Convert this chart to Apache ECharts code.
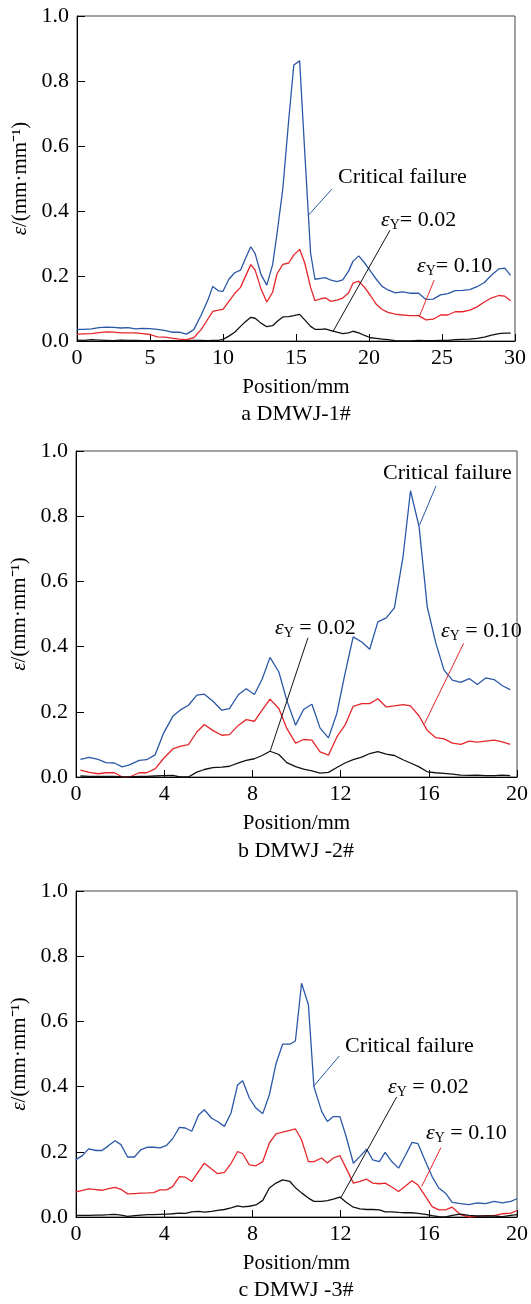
<!DOCTYPE html>
<html>
<head>
<meta charset="utf-8">
<script src="https://cdn.jsdelivr.net/npm/echarts@6/dist/echarts.min.js"></script>
<style>
html,body{margin:0;padding:0;background:#fff;}
#c{width:531px;height:1304px;}
</style>
</head>
<body>
<div id="c"></div>
<script>
// a DMWJ-1#
var posA = [0,0.5,1,1.5,2,2.5,3,3.5,4,4.5,5,5.5,6,6.5,7,7.5,8,8.5,9,
  9.3,9.7,10,10.4,10.8,11.2,11.5,11.9,12.2,12.6,13.0,13.4,13.7,14.1,14.5,14.85,15.25,15.6,16.0,16.3,
  16.7,17.0,17.4,17.8,18.2,18.6,18.9,19.3,19.7,20.1,20.5,20.9,21.3,21.8,22.3,22.8,23.4,23.9,24.4,24.9,
  25.4,25.9,26.4,26.9,27.4,27.9,28.4,28.9,29.3,29.7];
var critA = [0.036,0.036,0.037,0.041,0.043,0.042,0.040,0.041,0.037,0.039,0.038,0.036,0.033,0.027,0.027,0.021,0.035,0.079,0.13,
  0.168,0.154,0.153,0.19,0.21,0.218,0.25,0.29,0.269,0.205,0.172,0.235,0.33,0.47,0.68,0.849,0.862,0.58,0.27,0.19,
  0.193,0.195,0.187,0.183,0.188,0.215,0.245,0.262,0.24,0.215,0.19,0.168,0.157,0.148,0.151,0.147,0.147,0.128,0.129,0.142,
  0.146,0.155,0.156,0.158,0.167,0.18,0.203,0.222,0.224,0.202];
var y10A = [0.021,0.022,0.023,0.026,0.028,0.027,0.025,0.025,0.025,0.023,0.02,0.013,0.012,0.009,0.006,0.004,0.01,0.035,0.07,
  0.091,0.095,0.097,0.122,0.146,0.165,0.195,0.235,0.218,0.161,0.12,0.15,0.207,0.236,0.24,0.265,0.282,0.24,0.165,0.124,
  0.13,0.133,0.122,0.126,0.132,0.148,0.178,0.184,0.165,0.14,0.113,0.097,0.088,0.083,0.08,0.078,0.078,0.065,0.067,0.08,
  0.08,0.09,0.09,0.095,0.105,0.12,0.133,0.14,0.138,0.124];
var y02A = [0.003,0.002,0.004,0.003,0.002,0.001,0.003,0.002,0.002,0.001,0.001,0.001,0.001,0.001,0.001,0.001,0.002,0.002,0.001,
  0.002,0.002,0.005,0.015,0.027,0.045,0.058,0.073,0.07,0.055,0.044,0.047,0.06,0.074,0.075,0.078,0.082,0.065,0.045,0.036,
  0.036,0.037,0.032,0.027,0.023,0.025,0.03,0.025,0.017,0.01,0.008,0.006,0.004,0.001,0.0,0.0,0.002,0.001,0.001,0.002,
  0.002,0.004,0.005,0.006,0.008,0.012,0.018,0.023,0.024,0.024];

// b DMWJ -2#
var posB = [0.2,0.6,1.0,1.36,1.74,2.1,2.42,2.87,3.2,3.59,3.96,4.39,4.72,5.1,5.48,5.82,6.2,6.61,6.96,7.37,
  7.72,8.09,8.44,8.8,9.2,9.56,9.96,10.32,10.7,11.07,11.45,11.83,12.2,12.57,12.96,13.32,13.69,14.07,14.44,14.83,
  15.17,15.56,15.93,16.31,16.69,17.07,17.45,17.83,18.2,18.58,18.96,19.34,19.69];
var critB = [0.054,0.06,0.054,0.044,0.043,0.031,0.037,0.051,0.053,0.068,0.133,0.186,0.205,0.22,0.251,0.254,0.233,0.205,0.21,0.253,
  0.271,0.253,0.3,0.367,0.322,0.235,0.159,0.207,0.223,0.15,0.12,0.195,0.317,0.43,0.414,0.392,0.476,0.488,0.519,0.675,
  0.878,0.768,0.522,0.413,0.328,0.297,0.29,0.302,0.284,0.304,0.299,0.28,0.268];
var y10B = [0.021,0.014,0.01,0.013,0.013,0.0,0.0,0.013,0.013,0.025,0.056,0.086,0.094,0.099,0.138,0.161,0.143,0.128,0.13,0.159,
  0.176,0.171,0.205,0.239,0.21,0.149,0.104,0.115,0.113,0.077,0.067,0.123,0.159,0.217,0.225,0.225,0.24,0.215,0.218,0.222,
  0.218,0.187,0.143,0.121,0.117,0.104,0.1,0.11,0.107,0.11,0.113,0.108,0.1];
var y02B = [0.003,0.002,0.002,0.002,0.002,0.0,0.0,0.002,0.002,0.003,0.004,0.005,0.0,0.0,0.015,0.023,0.029,0.03,0.033,0.043,
  0.051,0.056,0.066,0.079,0.069,0.044,0.032,0.024,0.019,0.012,0.014,0.029,0.043,0.053,0.061,0.072,0.078,0.07,0.066,0.053,
  0.043,0.031,0.016,0.013,0.011,0.009,0.006,0.005,0.006,0.004,0.004,0.006,0.004];

// c DMWJ -3#
var posC = [0,0.3,0.57,0.91,1.18,1.48,1.77,2.04,2.34,2.65,2.95,3.25,3.52,3.81,4.11,4.38,4.69,4.96,5.25,5.56,
  5.82,6.15,6.42,6.73,7.03,7.33,7.56,7.86,8.16,8.47,8.77,9.07,9.37,9.7,9.95,10.23,10.54,10.79,11.14,11.4,
  11.67,11.97,12.25,12.58,12.88,13.18,13.46,13.76,14.02,14.32,14.63,14.93,15.24,15.51,15.85,16.15,16.45,16.76,17.06,17.44,
  17.82,18.2,18.58,18.96,19.34,19.72,20.0];
var critC = [0.176,0.189,0.209,0.204,0.204,0.219,0.234,0.222,0.184,0.184,0.207,0.214,0.214,0.212,0.22,0.24,0.275,0.273,0.263,0.313,
  0.329,0.303,0.293,0.278,0.319,0.405,0.418,0.365,0.334,0.317,0.375,0.47,0.53,0.53,0.54,0.717,0.651,0.4,0.324,0.293,
  0.308,0.308,0.247,0.165,0.186,0.208,0.175,0.17,0.198,0.17,0.15,0.188,0.229,0.225,0.17,0.124,0.089,0.073,0.045,0.041,
  0.038,0.043,0.041,0.048,0.043,0.048,0.056];
var y10C = [0.077,0.082,0.086,0.084,0.082,0.087,0.091,0.085,0.071,0.072,0.073,0.074,0.075,0.083,0.083,0.093,0.124,0.122,0.109,0.14,
  0.165,0.147,0.133,0.137,0.164,0.201,0.194,0.16,0.157,0.17,0.227,0.255,0.26,0.266,0.27,0.237,0.17,0.17,0.181,0.166,
  0.181,0.188,0.15,0.104,0.109,0.116,0.104,0.102,0.104,0.092,0.078,0.094,0.111,0.098,0.063,0.032,0.022,0.022,0.03,0.007,
  0.0,0.002,0.004,0.004,0.01,0.012,0.02];
var y02C = [0.005,0.005,0.005,0.006,0.006,0.007,0.008,0.006,0.002,0.004,0.006,0.007,0.007,0.008,0.009,0.01,0.012,0.011,0.016,0.017,
  0.015,0.017,0.02,0.023,0.028,0.034,0.031,0.033,0.037,0.051,0.089,0.104,0.114,0.109,0.09,0.074,0.058,0.048,0.048,0.05,
  0.055,0.061,0.045,0.03,0.025,0.023,0.023,0.022,0.016,0.016,0.014,0.013,0.013,0.011,0.008,0.004,0.001,0.0,0.005,0.009,
  0.005,0.003,0.003,0.003,0.001,0.005,0.007];

var xMax = [30, 20, 20];
var xStep = [5, 4, 4];
var yTicks = [0, 0.2, 0.4, 0.6, 0.8, 1.0];
var panelTitles = ['a DMWJ-1#', 'b DMWJ -2#', 'c DMWJ -3#'];

var FONT = '"Times New Roman", "Liberation Serif", serif';
var BLUE = '#2b58a6', RED = '#e5262b', BLACK = '#111111';

function pairs(xs, ys) {
  return xs.map(function (x, i) { return [x, ys[i]]; });
}

function leader(a, b, color) {
  return {
    silent: true, symbol: ['none', 'none'], label: {show: false},
    emphasis: {disabled: true},
    lineStyle: {color: color, width: 1, type: 'solid'},
    data: [[{coord: a}, {coord: b}]]
  };
}

var grids = [
  {left: 77, top: 16, width: 438, height: 325},
  {left: 76, top: 451, width: 441, height: 326},
  {left: 76, top: 891, width: 441, height: 326}
];

var xAxes = [], yAxes = [], series = [];
var panels = [
  {x: posA, c: critA, r: y10A, k: y02A,
   lc: [[17.45, 0.467], [15.85, 0.387]], lk: [[21.44, 0.341], [17.52, 0.028]], lr: [[24.46, 0.187], [23.45, 0.076]]},
  {x: posB, c: critB, r: y10B, k: y02B,
   lc: [[16.33, 0.893], [15.58, 0.773]], lk: [[10.52, 0.427], [8.81, 0.08]], lr: [[17.58, 0.41], [15.81, 0.164]]},
  {x: posC, c: critC, r: y10C, k: y02C,
   lc: [[11.94, 0.494], [10.79, 0.402]], lk: [[14.54, 0.368], [12.02, 0.06]], lr: [[16.55, 0.213], [15.68, 0.094]]}
];

panels.forEach(function (p, i) {
  grids[i].show = true;
  grids[i].borderColor = '#444';
  grids[i].borderWidth = 1;
  xAxes.push({
    gridIndex: i, type: 'value', min: 0, max: xMax[i], interval: xStep[i],
    axisLine: {show: true, lineStyle: {color: '#000', width: 1}},
    axisTick: {show: true, inside: true, length: 7, lineStyle: {color: '#000'}},
    axisLabel: {color: '#000', fontFamily: FONT, fontSize: 22, margin: 6},
    splitLine: {show: false},
    name: 'Position/mm', nameLocation: 'middle', nameGap: 36,
    nameTextStyle: {color: '#000', fontFamily: FONT, fontSize: 21}
  });
  yAxes.push({
    gridIndex: i, type: 'value', min: yTicks[0], max: yTicks[yTicks.length - 1], interval: 0.2,
    axisLine: {show: true, lineStyle: {color: '#000', width: 1}},
    axisTick: {show: true, inside: true, length: 8, lineStyle: {color: '#000'}},
    axisLabel: {color: '#000', fontFamily: FONT, fontSize: 22, margin: 8,
      formatter: function (v) { return v.toFixed(1); }},
    splitLine: {show: false},
    name: '{e|ε}/(mm·mm⁻¹)', nameLocation: 'middle', nameGap: 35, nameRotate: 90,
    nameTextStyle: {color: '#000', fontFamily: FONT, fontSize: 21,
      rich: {e: {fontStyle: 'italic', fontFamily: FONT, fontSize: 21, color: '#000'}}}
  });
  var base = {type: 'line', xAxisIndex: i, yAxisIndex: i, showSymbol: false, symbol: 'none',
    silent: true, animation: false};
  series.push(Object.assign({}, base, {name: 'Critical failure', data: pairs(p.x, p.c),
    lineStyle: {color: BLUE, width: 1.3}, markLine: leader(p.lc[0], p.lc[1], BLUE)}));
  series.push(Object.assign({}, base, {name: 'εY = 0.10', data: pairs(p.x, p.r),
    lineStyle: {color: RED, width: 1.3}, markLine: leader(p.lr[0], p.lr[1], RED)}));
  series.push(Object.assign({}, base, {name: 'εY = 0.02', data: pairs(p.x, p.k),
    lineStyle: {color: BLACK, width: 1.3}, markLine: leader(p.lk[0], p.lk[1], BLACK)}));
});

var rich = {
  e: {fontStyle: 'italic', fontFamily: FONT, fontSize: 22, fill: '#000'},
  s: {fontFamily: FONT, fontSize: 14, fill: '#000', padding: [10, 0, 0, 0]},
  n: {fontFamily: FONT, fontSize: 22, fill: '#000'}
};
function txt(x, y, text, align) {
  return {type: 'text', x: x, y: y, silent: true,
    style: {text: text, fontFamily: FONT, fontSize: 22, fill: '#000',
      textAlign: align || 'left', textVerticalAlign: 'middle', rich: rich}};
}

var graphics = [
  txt(338, 177, 'Critical failure'),
  txt(381, 220, '{e|ε}{s|Y}{n|= 0.02}'),
  txt(417, 266, '{e|ε}{s|Y}{n|= 0.10}'),
  txt(383, 473, 'Critical failure'),
  txt(275, 628, '{e|ε}{s|Y}{n| = 0.02}'),
  txt(441, 631, '{e|ε}{s|Y}{n| = 0.10}'),
  txt(345, 1046, 'Critical failure'),
  txt(388, 1087, '{e|ε}{s|Y}{n| = 0.02}'),
  txt(426, 1133, '{e|ε}{s|Y}{n| = 0.10}'),
  txt(296, 414, panelTitles[0], 'center'),
  txt(296, 851, panelTitles[1], 'center'),
  txt(296, 1290, panelTitles[2], 'center')
];

var chart = echarts.init(document.getElementById('c'), null, {renderer: 'canvas'});
chart.setOption({
  animation: false,
  backgroundColor: '#fff',
  grid: grids,
  xAxis: xAxes,
  yAxis: yAxes,
  series: series,
  graphic: graphics
});
</script>
</body>
</html>
